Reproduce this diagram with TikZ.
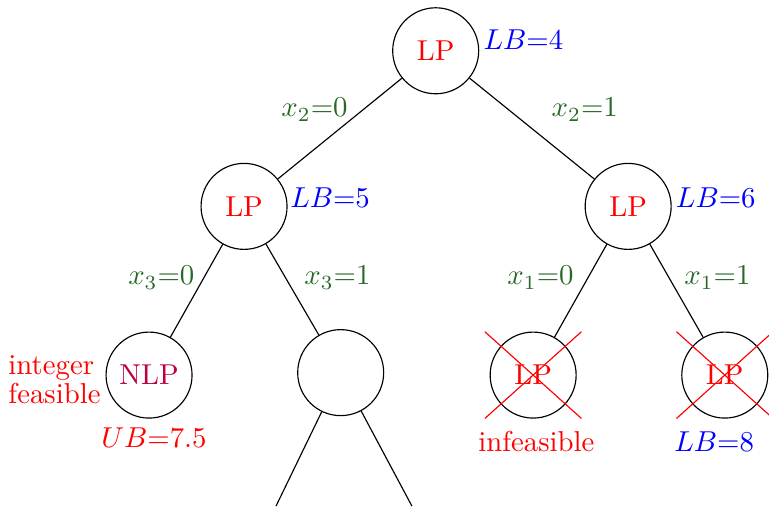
\documentclass[tikz,border=0pt]{standalone}
\usepackage{amsmath,amssymb}
\usetikzlibrary{calc,positioning}
\definecolor{bbgreen}{RGB}{40,105,40}
\tikzset{
  bbnode/.style={circle, draw=black, minimum size=1.05cm, inner sep=0pt},
  bbedge/.style={black},
  bblb/.style={blue, anchor=west},
  bbbranch/.style={bbgreen},
  bbcross/.style={red},
}
\begin{document}
\begin{tikzpicture}
\useasboundingbox (0,0) rectangle (9.39,-6.18);
% nodes of the tree
\node[bbnode, text=red] (root) at (5.32,-0.62) {LP};
\node[bbnode, text=red] (nL) at (2.98,-2.52) {LP};
\node[bbnode, text=red] (nR) at (7.67,-2.52) {LP};
\node[bbnode, text=purple] (nLL) at (1.82,-4.58) {NLP};
\node[bbnode] (nLR) at (4.16,-4.55) {};
\node[bbnode, text=red] (nRL) at (6.51,-4.58) {LP};
\node[bbnode, text=red] (nRR) at (8.85,-4.58) {LP};
\coordinate (dL) at (3.37,-6.18);
\coordinate (dR) at (5.03,-6.18);
% edges
\draw[bbedge] (root) -- (nL);
\draw[bbedge] (root) -- (nR);
\draw[bbedge] (nL) -- (nLL);
\draw[bbedge] (nL) -- (nLR);
\draw[bbedge] (nR) -- (nRL);
\draw[bbedge] (nR) -- (nRR);
\draw[bbedge] (nLR) -- (dL);
\draw[bbedge] (nLR) -- (dR);
% branching labels
\node[bbbranch] (b1) at (3.84,-1.34) {$x_2{=}0$};
\node[bbbranch] (b2) at (7.14,-1.34) {$x_2{=}1$};
\node[bbbranch] (b3) at (1.97,-3.39) {$x_3{=}0$};
\node[bbbranch] (b4) at (4.12,-3.39) {$x_3{=}1$};
\node[bbbranch] (b5) at (6.60,-3.39) {$x_1{=}0$};
\node[bbbranch] (b6) at (8.76,-3.39) {$x_1{=}1$};
% bounds
\node[bblb] (lb4) at (5.78,-0.49) {$LB{=}4$};
\node[bblb] (lb5) at (3.42,-2.41) {$LB{=}5$};
\node[bblb] (lb6) at (8.13,-2.41) {$LB{=}6$};
\node[red] (ub) at (1.88,-5.34) {$UB{=}7.5$};
\node[red] (inf) at (6.55,-5.39) {infeasible};
\node[blue] (lb8) at (8.72,-5.39) {$LB{=}8$};
\node[red, align=left, anchor=east, inner sep=1pt] (intf) at (1.27,-4.64)
  {integer\\[-2pt]feasible};
% pruned nodes
\draw[bbcross] ($(nRL)+(-.59,.53)$) -- ($(nRL)+(.59,-.53)$);
\draw[bbcross] ($(nRL)+(-.59,-.53)$) -- ($(nRL)+(.59,.53)$);
\draw[bbcross] ($(nRR)+(-.59,.53)$) -- ($(nRR)+(.59,-.53)$);
\draw[bbcross] ($(nRR)+(-.59,-.53)$) -- ($(nRR)+(.59,.53)$);
\end{tikzpicture}
\end{document}
